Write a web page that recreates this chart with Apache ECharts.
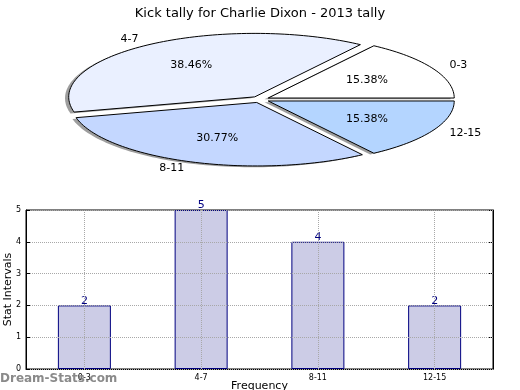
<!DOCTYPE html>
<html>
<head>
<meta charset="utf-8">
<script src="https://cdn.jsdelivr.net/npm/echarts@6/dist/echarts.min.js"></script>
<style>html,body{margin:0;padding:0;background:#fff}#c{width:520px;height:390px}</style>
</head>
<body>
<div id="c"></div>
<script>
const titleText = 'Kick tally for Charlie Dixon - 2013 tally';
const categories = ['0-3', '4-7', '8-11', '12-15'];
const counts = [2, 5, 4, 2];
const yTicks = [0, 1, 2, 3, 4, 5];
const sliceColors = ['#ffffff', '#eaf0ff', '#c4d7ff', '#b4d5ff'];

const FONT = "'DejaVu Sans', sans-serif";
const total = counts.reduce((a, b) => a + b, 0);
const PIE = { cx: 260, cy: 99.5, rx: 186, ry: 63.5, explode: 0.05 };

function ept(angle, k, ox, oy) {
  return [PIE.cx + ox + k * PIE.rx * Math.cos(angle), PIE.cy + oy - k * PIE.ry * Math.sin(angle)];
}

function renderSlice(params, api) {
  const i = params.dataIndex;
  let before = 0;
  for (let j = 0; j < i; j++) before += counts[j];
  const v = api.value(0);
  const a0 = before / total * 2 * Math.PI;
  const a1 = (before + v) / total * 2 * Math.PI;
  const mid = (a0 + a1) / 2;
  const ox = PIE.explode * PIE.rx * Math.cos(mid);
  const oy = -PIE.explode * PIE.ry * Math.sin(mid);
  const pts = [[PIE.cx + ox, PIE.cy + oy]];
  const n = Math.max(8, Math.ceil((a1 - a0) / (2 * Math.PI) * 240));
  for (let s = 0; s <= n; s++) {
    const a = a0 + (a1 - a0) * s / n;
    pts.push(ept(a, 1, ox, oy));
  }
  const shadowPts = pts.map(p => [p[0] - 3.7, p[1] + 1.3]);
  const lab = ept(mid, 1.1, ox, oy);
  const pct = ept(mid, 0.6, ox, oy);
  const pctText = (v / total * 100).toFixed(2) + '%';
  const leftSide = Math.cos(mid) < 0;
  return {
    type: 'group',
    children: [
      { type: 'polygon', z2: 1, shape: { points: shadowPts }, style: { fill: 'rgba(40,40,40,0.45)', stroke: null } },
      { type: 'polygon', z2: 10, shape: { points: pts }, style: { fill: sliceColors[i], stroke: '#000', lineWidth: 1 } },
      { type: 'text', z2: 20, x: lab[0], y: lab[1], style: { text: categories[i], font: '11px ' + FONT, fill: '#000', textAlign: leftSide ? 'right' : 'left', textVerticalAlign: 'middle', align: leftSide ? 'right' : 'left', verticalAlign: 'middle' } },
      { type: 'text', z2: 20, x: pct[0], y: pct[1], style: { text: pctText, font: '11px ' + FONT, fill: '#000', textAlign: 'center', textVerticalAlign: 'middle', align: 'center', verticalAlign: 'middle' } }
    ]
  };
}

const chart = echarts.init(document.getElementById('c'), null, { renderer: 'canvas' });
chart.setOption({
  animation: false,
  backgroundColor: '#fff',
  textStyle: { fontFamily: FONT },
  title: { text: titleText, left: 'center', top: 2, textStyle: { fontSize: 13, fontWeight: 'normal', color: '#000', fontFamily: FONT } },
  graphic: [
    { type: 'text', left: 0, top: 373, z: 100, style: { text: 'Dream-Stats.com', font: '600 12px ' + FONT, fill: 'rgba(125,125,125,0.9)' } }
  ],
  grid: { left: 26, right: 27, top: 210, bottom: 21, containLabel: false, outerBoundsMode: 'none', show: true, borderColor: '#000', borderWidth: 1, backgroundColor: 'transparent' },
  xAxis: {
    type: 'category', data: categories, boundaryGap: true,
    axisLine: { lineStyle: { color: '#000' } },
    axisTick: { show: false },
    axisLabel: { fontSize: 8, color: '#000', margin: 5, fontFamily: FONT },
    name: 'Frequency', nameLocation: 'middle', nameGap: 12, nameMoveOverlap: false,
    nameTextStyle: { fontSize: 11, color: '#000', fontFamily: FONT },
    splitLine: { show: false }
  },
  yAxis: [{
    type: 'value', min: 0, max: 5, interval: 1, z: 3,
    axisLine: { show: true, lineStyle: { color: '#000' } },
    axisTick: { show: true, inside: true, length: 4, lineStyle: { color: '#000' } },
    axisLabel: { fontSize: 8, color: '#000', margin: 5, fontFamily: FONT },
    splitLine: { show: true, lineStyle: { type: 'dotted', color: '#a8a8a8', width: 1 } },
    name: 'Stat Intervals', nameLocation: 'middle', nameGap: 12, nameMoveOverlap: false,
    nameTextStyle: { fontSize: 11, color: '#000', fontFamily: FONT }
  }, {
    type: 'value', min: 0, max: 5, interval: 1, position: 'right',
    axisLine: { show: true, lineStyle: { color: '#000' } },
    axisTick: { show: true, inside: true, length: 4, lineStyle: { color: '#000' } },
    axisLabel: { show: false }, splitLine: { show: false }
  }],
  series: [
    {
      type: 'custom', coordinateSystem: 'none', data: counts, renderItem: renderSlice, silent: true
    },
    {
      type: 'bar', data: counts, xAxisIndex: 0, yAxisIndex: 0, barWidth: 53,
      itemStyle: { color: '#ccccE6', borderColor: '#000080', borderWidth: 1 },
      label: { show: true, position: 'top', distance: -1, color: '#000080', fontSize: 11, fontFamily: FONT },
      markLine: {
        silent: true, symbol: ['none', 'none'], label: { show: false }, z: 5,
        lineStyle: { type: 'dotted', color: '#a8a8a8', width: 1 },
        data: categories.map(c => ({ xAxis: c }))
      }
    }
  ]
});
</script>
</body>
</html>
